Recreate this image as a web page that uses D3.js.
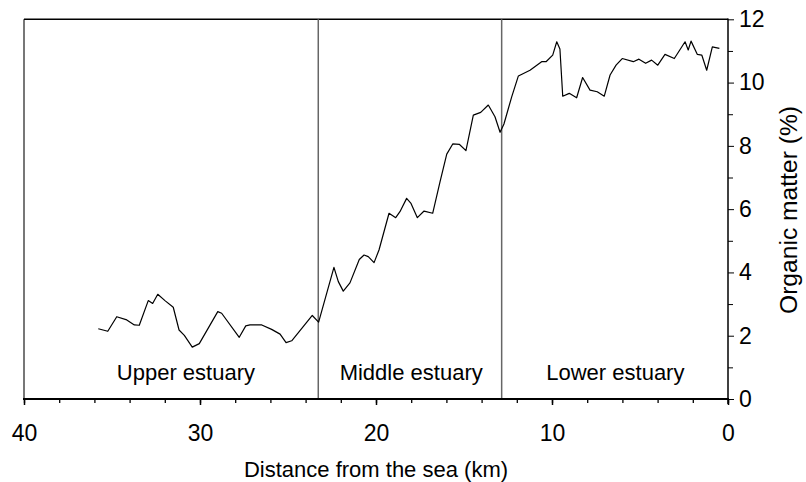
<!DOCTYPE html>
<html><head><meta charset="utf-8">
<script src="https://cdn.jsdelivr.net/npm/d3@7/dist/d3.min.js"></script>
<style>body{margin:0;background:#fff}svg{display:block}text{font-family:"Liberation Sans",Arial,sans-serif;fill:#000}</style>
</head><body>
<svg id="c" width="806" height="482"></svg>
<script>
const distanceKm = [35.78,35.24,34.73,34.16,33.73,33.45,32.94,32.69,32.40,31.99,31.52,31.19,30.89,30.44,30.04,28.99,28.77,27.77,27.40,27.16,26.49,25.93,25.45,25.11,24.79,23.62,23.26,
 22.39,22.14,21.86,21.48,20.95,20.68,20.44,20.11,19.83,19.26,18.88,18.64,18.26,18.01,17.65,17.27,16.78,16.36,15.98,15.64,15.27,14.89,14.47,14.05,13.62,13.24,12.95,12.73,
 12.29,11.91,11.25,10.59,10.34,9.96,9.73,9.55,9.39,9.02,8.60,8.26,7.84,7.43,7.03,6.70,6.36,6.01,5.38,5.06,4.68,4.34,3.99,3.58,3.05,2.44,2.26,2.10,1.74,1.49,1.21,0.89,0.49];
const organicMatter = [2.22,2.14,2.60,2.50,2.34,2.33,3.11,3.02,3.31,3.11,2.90,2.18,2.01,1.64,1.75,2.76,2.71,1.95,2.31,2.34,2.34,2.20,2.05,1.78,1.84,2.64,2.43,
 4.16,3.71,3.41,3.67,4.41,4.55,4.50,4.31,4.71,5.87,5.73,5.92,6.34,6.18,5.73,5.94,5.87,6.87,7.74,8.06,8.05,7.85,8.97,9.06,9.29,8.92,8.43,8.69,
 9.55,10.21,10.39,10.66,10.66,10.87,11.29,11.06,9.57,9.66,9.52,10.16,9.76,9.71,9.57,10.24,10.55,10.76,10.66,10.74,10.61,10.71,10.55,10.89,10.76,11.29,11.03,11.31,10.89,10.87,10.39,11.13,11.08];
const dividersKm = [23.28, 12.86];
const zoneLabels = ["Upper estuary", "Middle estuary", "Lower estuary"];
const zoneCentersKm = [30.8, 18.0, 6.4];
const xTicks = [40, 30, 20, 10, 0];
const yTicks = [0, 2, 4, 6, 8, 10, 12];
const xTitle = "Distance from the sea (km)";
const yTitle = "Organic matter (%)";

const svg = d3.select("#c");
const L = 24, R = 728, T = 19.3, B = 399;
const x = d3.scaleLinear().domain([40, 0]).range([L, R]);
const y = d3.scaleLinear().domain([0, 12]).range([B, T]);
const FONT = "Liberation Sans, Arial, sans-serif";

// frame: left and top
svg.append("line").attr("x1", L).attr("x2", L).attr("y1", T).attr("y2", B).attr("stroke", "#777").attr("stroke-width", 2);
svg.append("line").attr("x1", L).attr("x2", R).attr("y1", T).attr("y2", T).attr("stroke", "#000").attr("stroke-width", 1.5);

// dividers
svg.selectAll("line.div").data(dividersKm).join("line").attr("class", "div")
  .attr("x1", d => x(d)).attr("x2", d => x(d)).attr("y1", T).attr("y2", B)
  .attr("stroke", "#666").attr("stroke-width", 1.5);

// x axis
const gx = svg.append("g").attr("transform", `translate(0,${B})`);
gx.call(d3.axisBottom(x).tickValues(d3.range(0, 41, 2)).tickSize(4).tickFormat(""))
  .call(g => g.select(".domain").remove())
  .call(g => g.selectAll(".tick line").attr("stroke", "#000").attr("stroke-width", 1.3));
gx.append("g").call(d3.axisBottom(x).tickValues(xTicks).tickSize(6).tickPadding(20))
  .call(g => g.select(".domain").remove())
  .call(g => g.selectAll(".tick line").attr("stroke", "#000").attr("stroke-width", 1.5))
  .call(g => g.selectAll(".tick text").attr("font-size", 23).attr("font-family", FONT).attr("fill", "#000"));
svg.append("line").attr("x1", L - 1).attr("x2", R + 1).attr("y1", B).attr("y2", B).attr("stroke", "#000").attr("stroke-width", 2.2);

// y axis (right)
const gy = svg.append("g").attr("transform", `translate(${R},0)`);
gy.call(d3.axisRight(y).tickValues(d3.range(1, 12, 2)).tickSize(5).tickFormat(""))
  .call(g => g.select(".domain").remove())
  .call(g => g.selectAll(".tick line").attr("stroke", "#000").attr("stroke-width", 1));
gy.append("g").call(d3.axisRight(y).tickValues(yTicks).tickSize(6).tickPadding(5))
  .call(g => g.select(".domain").remove())
  .call(g => g.selectAll(".tick line").attr("stroke", "#000").attr("stroke-width", 1))
  .call(g => g.selectAll(".tick text").attr("font-size", 23).attr("font-family", FONT).attr("fill", "#000"));
svg.append("line").attr("x1", R).attr("x2", R).attr("y1", T - 0.7).attr("y2", B + 5).attr("stroke", "#000").attr("stroke-width", 1.5);

// data line
const data = distanceKm.map((d, i) => [d, organicMatter[i]]);
svg.append("path").datum(data)
  .attr("d", d3.line().x(d => x(d[0])).y(d => y(d[1])))
  .attr("fill", "none").attr("stroke", "#000").attr("stroke-width", 1.2).attr("stroke-linejoin", "round");

// zone labels
svg.selectAll("text.zone").data(zoneLabels).join("text").attr("class", "zone")
  .attr("x", (d, i) => x(zoneCentersKm[i])).attr("y", 379.5)
  .attr("text-anchor", "middle").attr("font-size", 22).text(d => d);

// titles
svg.append("text").attr("x", x(20)).attr("y", 476.5).attr("text-anchor", "middle").attr("font-size", 22).text(xTitle);
svg.append("text").attr("transform", `translate(797,210) rotate(-90)`).attr("text-anchor", "middle")
  .attr("font-size", 23).attr("textLength", 208).attr("lengthAdjust", "spacingAndGlyphs").text(yTitle);
</script>
</body></html>
